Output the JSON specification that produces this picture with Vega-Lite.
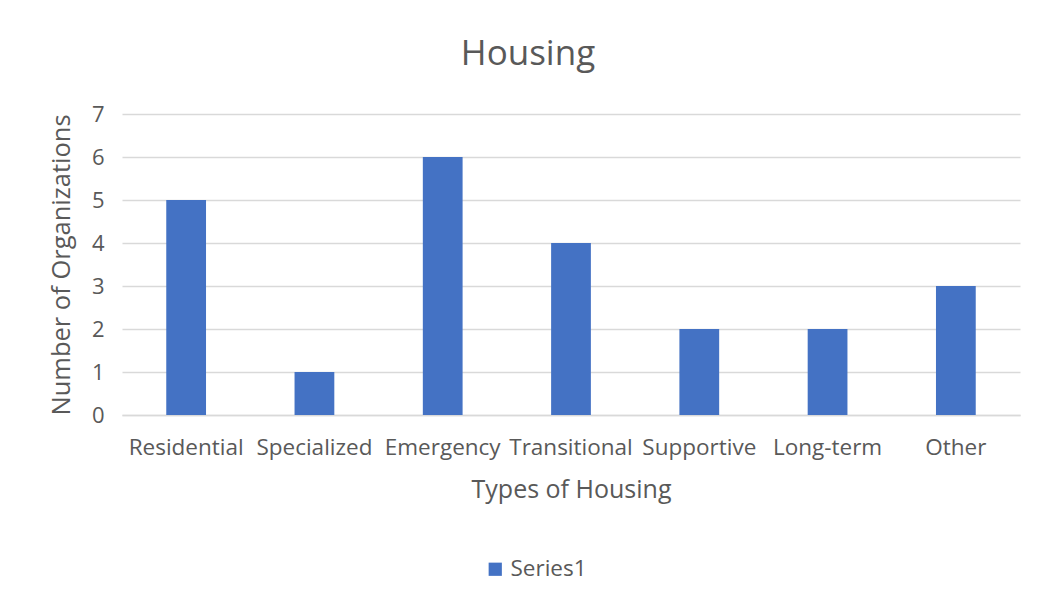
{
  "$schema": "https://vega.github.io/schema/vega-lite/v6.json",
  "width": 898,
  "height": 301,
  "autosize": {"type": "none"},
  "padding": {"left": 122, "top": 114, "right": 19, "bottom": 191},
  "background": "white",
  "config": {
    "view": {"stroke": null},
    "font": "Open Sans"
  },
  "title": {
    "text": "Housing",
    "fontSize": 35,
    "font": "Open Sans",
    "fontWeight": "normal",
    "color": "#595959",
    "anchor": "middle",
    "dx": -43,
    "offset": 31
  },
  "data": {
    "values": [
      {"type": "Residential", "count": 5, "series": "Series1"},
      {"type": "Specialized", "count": 1, "series": "Series1"},
      {"type": "Emergency", "count": 6, "series": "Series1"},
      {"type": "Transitional", "count": 4, "series": "Series1"},
      {"type": "Supportive", "count": 2, "series": "Series1"},
      {"type": "Long-term", "count": 2, "series": "Series1"},
      {"type": "Other", "count": 3, "series": "Series1"}
    ]
  },
  "mark": {"type": "bar"},
  "encoding": {
    "x": {
      "field": "type",
      "type": "nominal",
      "sort": null,
      "scale": {"paddingInner": 0.69, "paddingOuter": 0.345},
      "axis": {
        "title": "Types of Housing",
        "titleFontSize": 25,
        "titleFontWeight": "normal",
        "titleColor": "#595959",
        "titlePadding": 19,
        "labelAngle": 0,
        "labelFontSize": 22.5,
        "labelColor": "#595959",
        "labelPadding": 21,
        "ticks": false,
        "domainColor": "#D9D9D9",
        "domainWidth": 1.5
      }
    },
    "y": {
      "field": "count",
      "type": "quantitative",
      "scale": {"domain": [0, 7]},
      "axis": {
        "title": "Number of Organizations",
        "titleFontSize": 25.5,
        "titleFontWeight": "normal",
        "titleColor": "#595959",
        "titlePadding": 17,
        "values": [0, 1, 2, 3, 4, 5, 6, 7],
        "labelFontSize": 22,
        "labelColor": "#595959",
        "labelPadding": 18,
        "ticks": false,
        "domain": false,
        "gridColor": "#D9D9D9",
        "gridWidth": 1.5
      }
    },
    "color": {
      "field": "series",
      "type": "nominal",
      "scale": {"range": ["#4472C4"]},
      "legend": {
        "title": null,
        "orient": "none",
        "legendX": 362,
        "legendY": 444,
        "symbolType": "square",
        "symbolSize": 175,
        "labelFontSize": 22.5,
        "labelColor": "#595959"
      }
    }
  }
}
